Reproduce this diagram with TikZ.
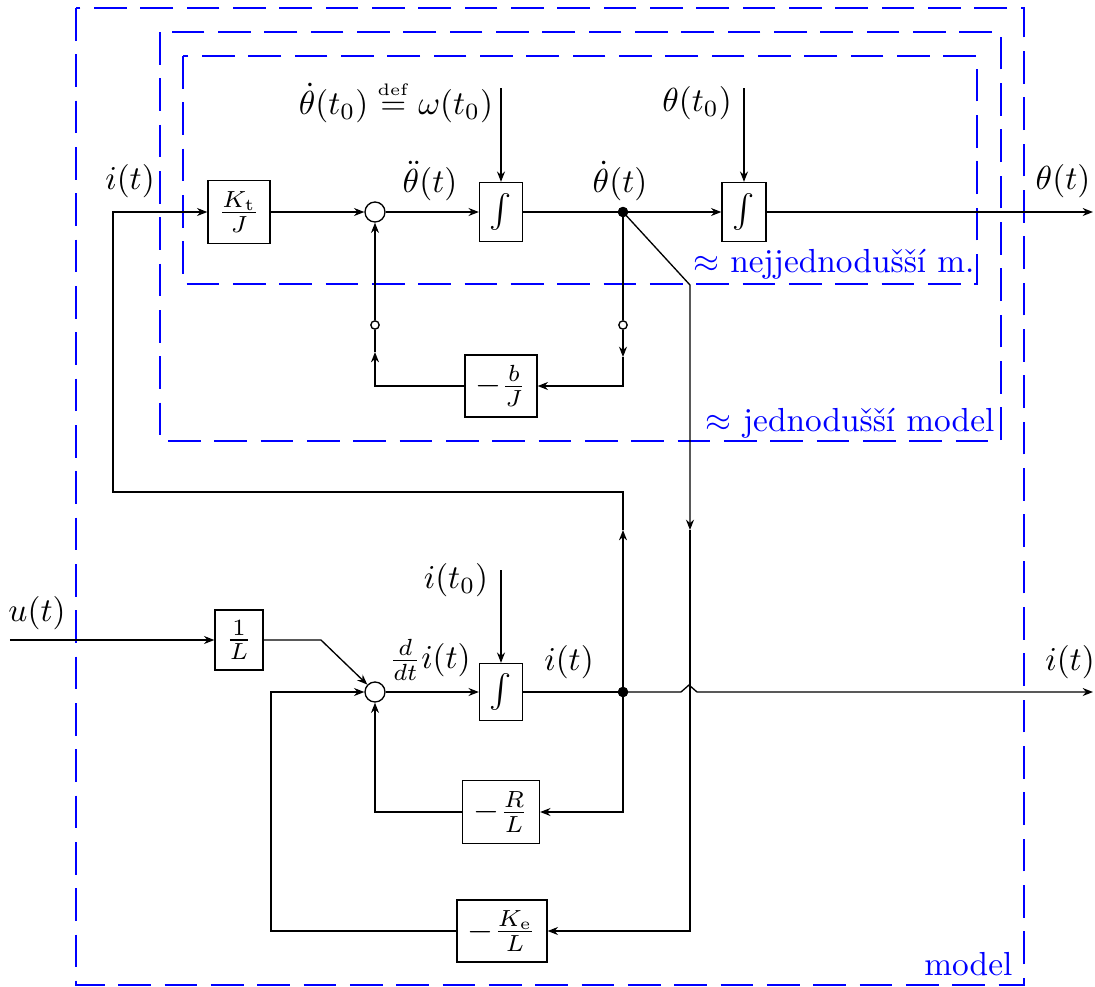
\documentclass[tikz,border=0pt]{standalone}
\usetikzlibrary{arrows.meta}
\begin{document}
\begin{tikzpicture}[x=0.3pt,y=-0.3pt,
  blk/.style={draw, inner sep=0pt},
  sumc/.style={draw, circle, minimum size=6pt, inner sep=0pt},
  tap/.style={circle, fill, minimum size=3.1pt, inner sep=0pt},
  swc/.style={draw, circle, fill=white, minimum size=2.5pt, inner sep=0pt},
  arr/.style={-{Stealth[length=3.1pt,width=2.4pt]}},
  frame/.style={draw=blue, dash pattern=on 9.8pt off 4.1pt},
  flab/.style={text=blue, anchor=base east, inner sep=0pt},
  lab/.style={inner sep=0pt}]
\useasboundingbox (0,0) rectangle (1095,987);

% frames
\draw[frame] (76,8) rectangle (1024,985);
\draw[frame] (160,32) rectangle (1001,441);
\draw[frame] (183,56) rectangle (977,284);
\node[flab] (fl1) at (975,272) {$\approx$ nejjednodušší m.};
\node[flab] (fl2) at (995,431) {$\approx$ jednodušší model};
\node[flab] (fl3) at (1013,975) {model};

% top row
\node[blk, minimum width=18.6pt, minimum height=18.9pt] (kt) at (239,212) {$\frac{K_\mathrm{t}}{J}$};
\node[sumc] (s1) at (375,212) {};
\node[blk, minimum width=12.9pt, minimum height=17.7pt] (i1) at (501,212) {$\int$};
\node[tap] (d1) at (623,212) {};
\node[blk, minimum width=13.2pt, minimum height=17.7pt] (i2) at (744,212) {$\int$};
\coordinate (out1) at (1093,212);
\coordinate (i1a) at (501,88);
\coordinate (i2a) at (744,88);
\node[swc] (sw1) at (375,325) {};
\node[swc] (sw2) at (623,325) {};
\coordinate (a1) at (375,352);
\coordinate (a2) at (623,357);
\node[blk, minimum width=21.6pt, minimum height=18.6pt] (bj) at (501,386) {$-\frac{b}{J}$};

\node[lab] (lit) at (130,181) {$i(t)$};
\node[lab] (lw0) at (396,102) {$\dot\theta(t_0) \stackrel{\scriptscriptstyle\mathrm{def}}{=} \omega(t_0)$};
\node[lab] (lthdd) at (430,181) {$\ddot\theta(t)$};
\node[lab] (lthd) at (620,181) {$\dot\theta(t)$};
\node[lab] (lth0) at (697,103) {$\theta(t_0)$};
\node[lab] (lth) at (1063,181) {$\theta(t)$};

% bottom part
\coordinate (uin) at (10,640);
\node[blk, minimum width=14.4pt, minimum height=18pt] (l1) at (239,640) {$\frac{1}{L}$};
\coordinate (c4) at (321,640);
\node[sumc] (s2) at (375,692) {};
\node[blk, minimum width=12.9pt, minimum height=17.1pt] (i3) at (501,692) {$\int$};
\coordinate (i3a) at (501,570);
\node[tap] (d3) at (623,692) {};
\coordinate (out2) at (1093,692);
\node[blk, minimum width=23.1pt, minimum height=18.9pt] (rl) at (501,812) {$-\frac{R}{L}$};
\node[blk, minimum width=27pt, minimum height=18.6pt] (ke) at (502,931) {$-\frac{K_\mathrm{e}}{L}$};
\coordinate (c5) at (271,692);
\coordinate (up1) at (623,530);
\coordinate (c2) at (113,492);
\coordinate (c3) at (690,285);
\coordinate (dn1) at (690,530);

\node[lab] (lu) at (37,613) {$u(t)$};
\node[lab] (li0) at (456,580) {$i(t_0)$};
\node[lab] (ldi) at (430,660) {$\frac{d}{dt}i(t)$};
\node[lab] (li1) at (569,662) {$i(t)$};
\node[lab] (li2) at (1070,662) {$i(t)$};

% connectors top
\draw[arr] (kt) -- (s1);
\draw[arr] (s1) -- (i1);
\draw[arr] (i1a) -- (i1);
\draw (i1) -- (d1.center);
\draw[arr] (d1.center) -- (i2);
\draw[arr] (i2a) -- (i2);
\draw[arr] (i2) -- (out1);
\draw (d1.center) -- (sw2);
\draw[arr] (sw2) -- (a2);
\draw[arr] (a2) |- (bj);
\draw[arr] (bj) -| (a1);
\draw (a1) -- (sw1);
\draw[arr] (sw1) -- (s1);

% cross connections
\draw[arr] (d3.center) -- (up1);
\draw[arr] (up1) |- (c2) |- (kt);
\draw[arr] (d1.center) -- (c3) -- (dn1);
\draw[arr] (dn1) |- (ke);

% connectors bottom
\draw[arr] (uin) -- (l1);
\draw[arr] (l1) -- (c4) -- (s2);
\draw[arr] (s2) -- (i3);
\draw[arr] (i3a) -- (i3);
\draw (i3) -- (d3.center);
\draw[arr] (d3.center) -- (681,692) -- (689,685) -- (697,692) -- (out2);
\draw[arr] (d3.center) |- (rl);
\draw[arr] (rl) -| (s2);
\draw[arr] (ke) -| (c5) -- (s2);

\node[tap] at (d1) {};
\node[tap] at (d3) {};
\end{tikzpicture}
\end{document}
